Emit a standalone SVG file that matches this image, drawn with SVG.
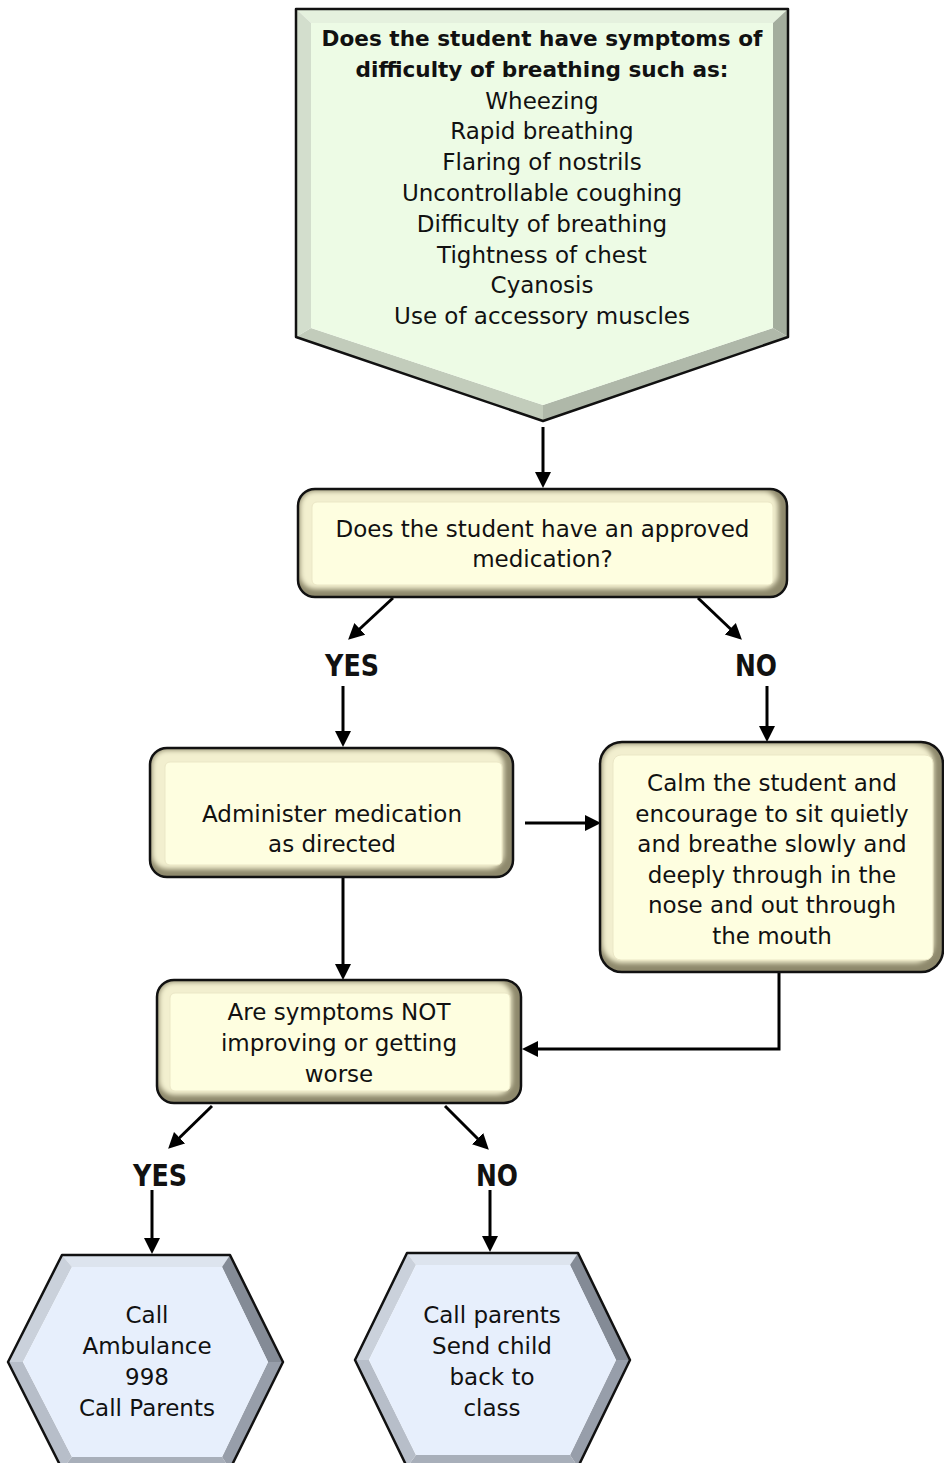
<svg xmlns="http://www.w3.org/2000/svg" width="944" height="1463" viewBox="0 0 944 1463">
  <style>
    .t { font-family: "DejaVu Sans", "Liberation Sans", sans-serif; font-size: 23px; fill: #111; text-anchor: middle; }
    .tb { font-family: "DejaVu Sans", "Liberation Sans", sans-serif; font-size: 21.6px; font-weight: bold; fill: #111; text-anchor: middle; }
    .lbl { font-family: "DejaVu Sans", "Liberation Sans", sans-serif; font-size: 30px; font-weight: bold; fill: #111; text-anchor: middle; }
    .edge { fill: none; stroke: #000; stroke-width: 3; marker-end: url(#arrow); }
    .outline { fill: none; stroke: #111; stroke-width: 2.5; stroke-linejoin: round; }
    .boxDark { fill: #8e896c; }
    .boxLight { fill: #f2efcf; filter: url(#soft); }
    .boxFace { fill: #fefee0; stroke: #ebe7c6; stroke-width: 1; }
    .hexFace { fill: #e7effc; }
    .penFace { fill: #edfbe5; }
  </style>
  <defs>
    <marker id="arrow" markerUnits="userSpaceOnUse" markerWidth="18" markerHeight="18" viewBox="0 0 18 18" refX="12" refY="9" orient="auto">
      <path d="M0,1 L16,9 L0,17 z" fill="#000"/>
    </marker>
    <filter id="soft" x="-5%" y="-5%" width="110%" height="110%">
      <feGaussianBlur stdDeviation="2.5"/>
    </filter>
    <clipPath id="clipA"><rect x="298" y="489" width="489" height="108" rx="17"/></clipPath>
    <clipPath id="clipB"><rect x="150" y="748" width="363" height="129" rx="17"/></clipPath>
    <clipPath id="clipC"><rect x="600" y="742" width="343" height="230" rx="22"/></clipPath>
    <clipPath id="clipD"><rect x="157" y="980" width="364" height="123" rx="17"/></clipPath>
  </defs>

  <!-- connectors -->
  <g id="connectors">
    <path class="edge" d="M543,427 V484"/>
    <path class="edge" d="M393,598 L351,637"/>
    <path class="edge" d="M698,598 L739,637"/>
    <path class="edge" d="M343,686 V743"/>
    <path class="edge" d="M767,686 V738"/>
    <path class="edge" d="M525,823 H597"/>
    <path class="edge" d="M343,877 V976"/>
    <path class="edge" d="M779,972 V1049 H526"/>
    <path class="edge" d="M212,1106 L171,1146"/>
    <path class="edge" d="M445,1106 L486,1147"/>
    <path class="edge" d="M152,1190 V1250"/>
    <path class="edge" d="M490,1190 V1248"/>
  </g>

  <!-- start: symptom check -->
  <g id="symptoms">
    <polygon points="296,9 788,9 773,23 311,23" fill="#e5f1de"/>
    <polygon points="788,9 788,337 773,328 773,23" fill="#a3ad9d"/>
    <polygon points="788,337 543,421 543,405 773,328" fill="#afb8a9"/>
    <polygon points="543,421 296,337 311,328 543,405" fill="#c2ccbb"/>
    <polygon points="296,337 296,9 311,23 311,328" fill="#d3decd"/>
    <polygon class="penFace" points="311,23 773,23 773,328 543,405 311,328"/>
    <polygon class="outline" points="296,9 788,9 788,337 543,421 296,337"/>
    <text class="tb" x="542" y="46">Does the student have symptoms of</text>
    <text class="tb" x="542" y="77">difficulty of breathing such as:</text>
    <text class="t" x="542" y="108.5">Wheezing</text>
    <text class="t" x="542" y="139.3">Rapid breathing</text>
    <text class="t" x="542" y="170">Flaring of nostrils</text>
    <text class="t" x="542" y="201">Uncontrollable coughing</text>
    <text class="t" x="542" y="231.7">Difficulty of breathing</text>
    <text class="t" x="542" y="262.5">Tightness of chest</text>
    <text class="t" x="542" y="293">Cyanosis</text>
    <text class="t" x="542" y="324">Use of accessory muscles</text>
  </g>

  <!-- decision: approved medication -->
  <g id="approved-medication">
    <g clip-path="url(#clipA)">
      <rect class="boxDark" x="298" y="489" width="489" height="108" rx="17"/>
      <rect class="boxLight" x="300" y="491" width="478" height="98" rx="15"/>
    </g>
    <rect class="boxFace" x="312" y="502" width="461" height="83" rx="5"/>
    <rect class="outline" x="298" y="489" width="489" height="108" rx="17"/>
    <text class="t" x="542.5" y="536.7">Does the student have an approved</text>
    <text class="t" x="542.5" y="566.7">medication?</text>
  </g>

  <!-- branch labels -->
  <g id="label-yes-1"><text class="lbl" x="352" y="676" textLength="54" lengthAdjust="spacingAndGlyphs">YES</text></g>
  <g id="label-no-1"><text class="lbl" x="756" y="676" textLength="42" lengthAdjust="spacingAndGlyphs">NO</text></g>

  <!-- step: administer medication -->
  <g id="administer">
    <g clip-path="url(#clipB)">
      <rect class="boxDark" x="150" y="748" width="363" height="129" rx="17"/>
      <rect class="boxLight" x="152" y="750" width="352" height="119" rx="15"/>
    </g>
    <rect class="boxFace" x="165" y="762" width="337" height="103" rx="5"/>
    <rect class="outline" x="150" y="748" width="363" height="129" rx="17"/>
    <text class="t" x="332" y="821.7">Administer medication</text>
    <text class="t" x="332" y="851.7">as directed</text>
  </g>

  <!-- step: calm the student -->
  <g id="calm">
    <g clip-path="url(#clipC)">
      <rect class="boxDark" x="600" y="742" width="343" height="230" rx="22"/>
      <rect class="boxLight" x="602" y="744" width="332" height="219" rx="20"/>
    </g>
    <rect class="boxFace" x="613" y="755" width="320" height="205" rx="8"/>
    <rect class="outline" x="600" y="742" width="343" height="230" rx="22"/>
    <text class="t" x="772" y="791">Calm the student and</text>
    <text class="t" x="772" y="821.5">encourage to sit quietly</text>
    <text class="t" x="772" y="852">and breathe slowly and</text>
    <text class="t" x="772" y="882.5">deeply through in the</text>
    <text class="t" x="772" y="913">nose and out through</text>
    <text class="t" x="772" y="943.5">the mouth</text>
  </g>

  <!-- decision: symptoms worsening -->
  <g id="not-improving">
    <g clip-path="url(#clipD)">
      <rect class="boxDark" x="157" y="980" width="364" height="123" rx="17"/>
      <rect class="boxLight" x="159" y="982" width="353" height="113" rx="15"/>
    </g>
    <rect class="boxFace" x="170" y="993" width="340" height="98" rx="5"/>
    <rect class="outline" x="157" y="980" width="364" height="123" rx="17"/>
    <text class="t" x="339" y="1020">Are symptoms NOT</text>
    <text class="t" x="339" y="1050.8">improving or getting</text>
    <text class="t" x="339" y="1081.6">worse</text>
  </g>

  <g id="label-yes-2"><text class="lbl" x="160" y="1186" textLength="54" lengthAdjust="spacingAndGlyphs">YES</text></g>
  <g id="label-no-2"><text class="lbl" x="497" y="1186" textLength="42" lengthAdjust="spacingAndGlyphs">NO</text></g>

  <!-- outcome: ambulance -->
  <g id="ambulance">
    <polygon points="62,1255 230,1255 222,1267 72,1267" fill="#dde4ee"/>
    <polygon points="230,1255 283,1362 268,1362 222,1267" fill="#848b96"/>
    <polygon points="283,1362 230,1469 222,1457 268,1362" fill="#979eaa"/>
    <polygon points="230,1469 62,1469 72,1457 222,1457" fill="#a8afba"/>
    <polygon points="62,1469 8,1362 23,1362 72,1457" fill="#b7bec9"/>
    <polygon points="8,1362 62,1255 72,1267 23,1362" fill="#cad1db"/>
    <polygon class="hexFace" points="72,1267 222,1267 268,1362 222,1457 72,1457 23,1362"/>
    <polygon class="outline" points="62,1255 230,1255 283,1362 230,1469 62,1469 8,1362"/>
    <text class="t" x="147" y="1323">Call</text>
    <text class="t" x="147" y="1354">Ambulance</text>
    <text class="t" x="147" y="1385">998</text>
    <text class="t" x="147" y="1416">Call Parents</text>
  </g>

  <!-- outcome: back to class -->
  <g id="back-to-class">
    <polygon points="407,1253 578,1253 570,1265 416,1265" fill="#dde4ee"/>
    <polygon points="578,1253 630,1360 616,1360 570,1265" fill="#848b96"/>
    <polygon points="630,1360 578,1467 570,1455 616,1360" fill="#979eaa"/>
    <polygon points="578,1467 407,1467 416,1455 570,1455" fill="#a8afba"/>
    <polygon points="407,1467 355,1360 369,1360 416,1455" fill="#b7bec9"/>
    <polygon points="355,1360 407,1253 416,1265 369,1360" fill="#cad1db"/>
    <polygon class="hexFace" points="416,1265 570,1265 616,1360 570,1455 416,1455 369,1360"/>
    <polygon class="outline" points="407,1253 578,1253 630,1360 578,1467 407,1467 355,1360"/>
    <text class="t" x="492" y="1323">Call parents</text>
    <text class="t" x="492" y="1354">Send child</text>
    <text class="t" x="492" y="1385">back to</text>
    <text class="t" x="492" y="1416">class</text>
  </g>
</svg>
